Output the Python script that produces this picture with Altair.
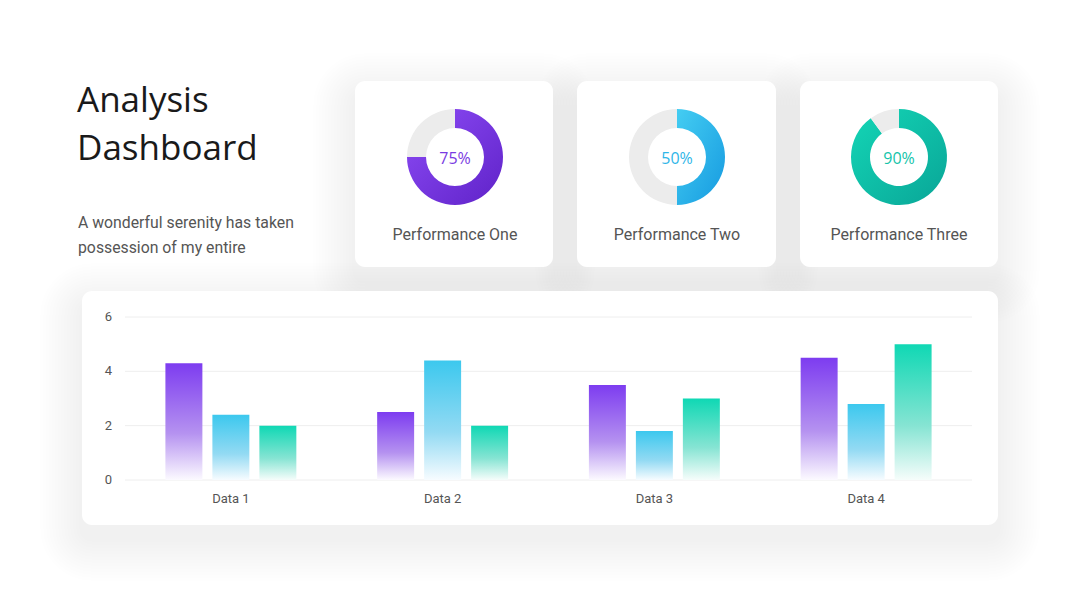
import altair as alt
import pandas as pd

# ---------------- data ----------------
categories = ["Data 1", "Data 2", "Data 3", "Data 4"]
series_names = ["s1", "s2", "s3"]
purple_vals = [4.3, 2.5, 3.5, 4.5]
blue_vals = [2.4, 4.4, 1.8, 2.8]
green_vals = [2.0, 2.0, 3.0, 5.0]
y_ticks = [0, 2, 4, 6]

donut_labels = ["Performance One", "Performance Two", "Performance Three"]
donut_values = [75, 50, 90]

title_lines = ["Analysis", "Dashboard"]
subtitle_lines = ["A wonderful serenity has taken", "possession of my entire"]

# ---------------- styling ----------------
OFF = 8  # page margin: screen px -> chart px
def P(v):
    return v - OFF

TEXT = "#555555"

def lin(stops, x2=0, y2=1):
    return {"gradient": "linear", "x1": 0, "y1": 0, "x2": x2, "y2": y2,
            "stops": [{"offset": o, "color": c} for o, c in stops]}

one = alt.Data(values=[{}])
layers = []

# cards (screen coords)
cards = [(355, 81, 553, 267), (577, 81, 776, 267), (800, 81, 998, 267), (82, 291, 998, 525)]

# soft shadows
for (x0, y0, x1, y1) in cards:
    for i in range(1, 15):
        d = 3 * i
        layers.append(
            alt.Chart(one).mark_rect(cornerRadius=10 + d, fill="#000000", opacity=0.0021).encode(
                x=alt.value(P(x0 - d)), x2=alt.value(P(x1 + d)),
                y=alt.value(P(y0 - d + 14)), y2=alt.value(P(y1 + d + 14)))
        )
for (x0, y0, x1, y1) in cards:
    layers.append(
        alt.Chart(one).mark_rect(cornerRadius=10, fill="#ffffff").encode(
            x=alt.value(P(x0)), x2=alt.value(P(x1)),
            y=alt.value(P(y0)), y2=alt.value(P(y1)))
    )

# title and subtitle
for i, line in enumerate(title_lines):
    layers.append(
        alt.Chart(one).mark_text(text=line, font="Open Sans", fontSize=35, color="#1a1a1a",
                                 align="left", baseline="alphabetic").encode(
            x=alt.value(P(77)), y=alt.value(P(112 + 48 * i)))
    )
for i, line in enumerate(subtitle_lines):
    layers.append(
        alt.Chart(one).mark_text(text=line, font="Roboto", fontSize=15.8, color=TEXT,
                                 align="left", baseline="alphabetic").encode(
            x=alt.value(P(78)), y=alt.value(P(228 + 25 * i)))
    )

# donuts
donut_grads = [
    lin([(0, "#8d4cf6"), (1, "#5f22c8")], x2=1, y2=1),
    lin([(0, "#44cdf2"), (1, "#169ae0")], x2=1, y2=1),
    lin([(0, "#14d6b6"), (1, "#09a597")], x2=1, y2=1),
]
donut_text_colors = ["#7a3be2", "#2fb6e8", "#14c4aa"]
centers_x = [455, 677, 899]
cy = 157
for k in range(3):
    ddf = pd.DataFrame({"seg": ["done", "rest"],
                        "v": [donut_values[k], 100 - donut_values[k]],
                        "o": [0, 1]})
    layers.append(
        alt.Chart(ddf).mark_arc(innerRadius=29, outerRadius=48).encode(
            theta=alt.Theta("v:Q", stack=True),
            order=alt.Order("o:Q"),
            fill=alt.condition("datum.seg == 'done'", alt.value(donut_grads[k]), alt.value("#ececec")),
            x=alt.value(P(centers_x[k])), y=alt.value(P(cy)))
    )
    layers.append(
        alt.Chart(pd.DataFrame({"t": [f"{donut_values[k]}%"]})).mark_text(
            font="Open Sans", fontSize=16, color=donut_text_colors[k], align="center", baseline="middle").encode(
            text="t:N", x=alt.value(P(centers_x[k])), y=alt.value(P(cy + 2)))
    )
    layers.append(
        alt.Chart(pd.DataFrame({"t": [donut_labels[k]]})).mark_text(
            font="Roboto", fontSize=16, color=TEXT, align="center", baseline="middle").encode(
            text="t:N", x=alt.value(P(centers_x[k])), y=alt.value(P(235)))
    )

# bar chart
xs = alt.Scale(domain=categories, range=[P(125), P(972)], paddingInner=0, paddingOuter=0)
ys = alt.Scale(domain=[0, 6], range=[P(480), P(317)], nice=False, zero=True)
xos = alt.Scale(domain=series_names, paddingInner=0.213, paddingOuter=0.86)

tick_df = pd.DataFrame({"t": y_ticks})
layers.append(
    alt.Chart(tick_df).mark_rule(color="#eeeeee", strokeWidth=1).encode(
        y=alt.Y("t:Q", scale=ys, axis=None),
        x=alt.value(P(125)), x2=alt.value(P(972)))
)
layers.append(
    alt.Chart(tick_df).mark_text(font="Roboto", fontSize=13, color=TEXT, align="right", baseline="middle").encode(
        y=alt.Y("t:Q", scale=ys, axis=None), text="t:Q", x=alt.value(P(112)))
)

rows = []
for s, vals in zip(series_names, [purple_vals, blue_vals, green_vals]):
    for c, v in zip(categories, vals):
        rows.append({"cat": c, "series": s, "v": v})
bars = pd.DataFrame(rows)

bar_grads = {
    "s1": lin([(0, "#7d3cf0"), (0.6, "#b592f0"), (1, "#fcfaff")]),
    "s2": lin([(0, "#3cc8ee"), (0.6, "#93daf3"), (1, "#f7fcff")]),
    "s3": lin([(0, "#0fd8b4"), (0.6, "#86e4d3"), (1, "#f6fdfb")]),
}
for s in series_names:
    layers.append(
        alt.Chart(bars).transform_filter(alt.datum.series == s).mark_bar(fill=bar_grads[s]).encode(
            x=alt.X("cat:N", scale=xs, axis=None),
            xOffset=alt.XOffset("series:N", scale=xos),
            y=alt.Y("v:Q", scale=ys, axis=None))
    )

layers.append(
    alt.Chart(pd.DataFrame({"cat": categories})).mark_text(
        font="Roboto", fontSize=13, color=TEXT, align="center", baseline="middle").encode(
        x=alt.X("cat:N", scale=xs, axis=None), text="cat:N", y=alt.value(P(499)))
)

chart = alt.layer(*layers).properties(
    width=1064, height=592, padding=0,
    autosize=alt.AutoSizeParams(type="none"),
    background="#ffffff",
).configure_view(stroke=None)

chart.save("out.html", embed_options={"renderer": "svg", "actions": False})
